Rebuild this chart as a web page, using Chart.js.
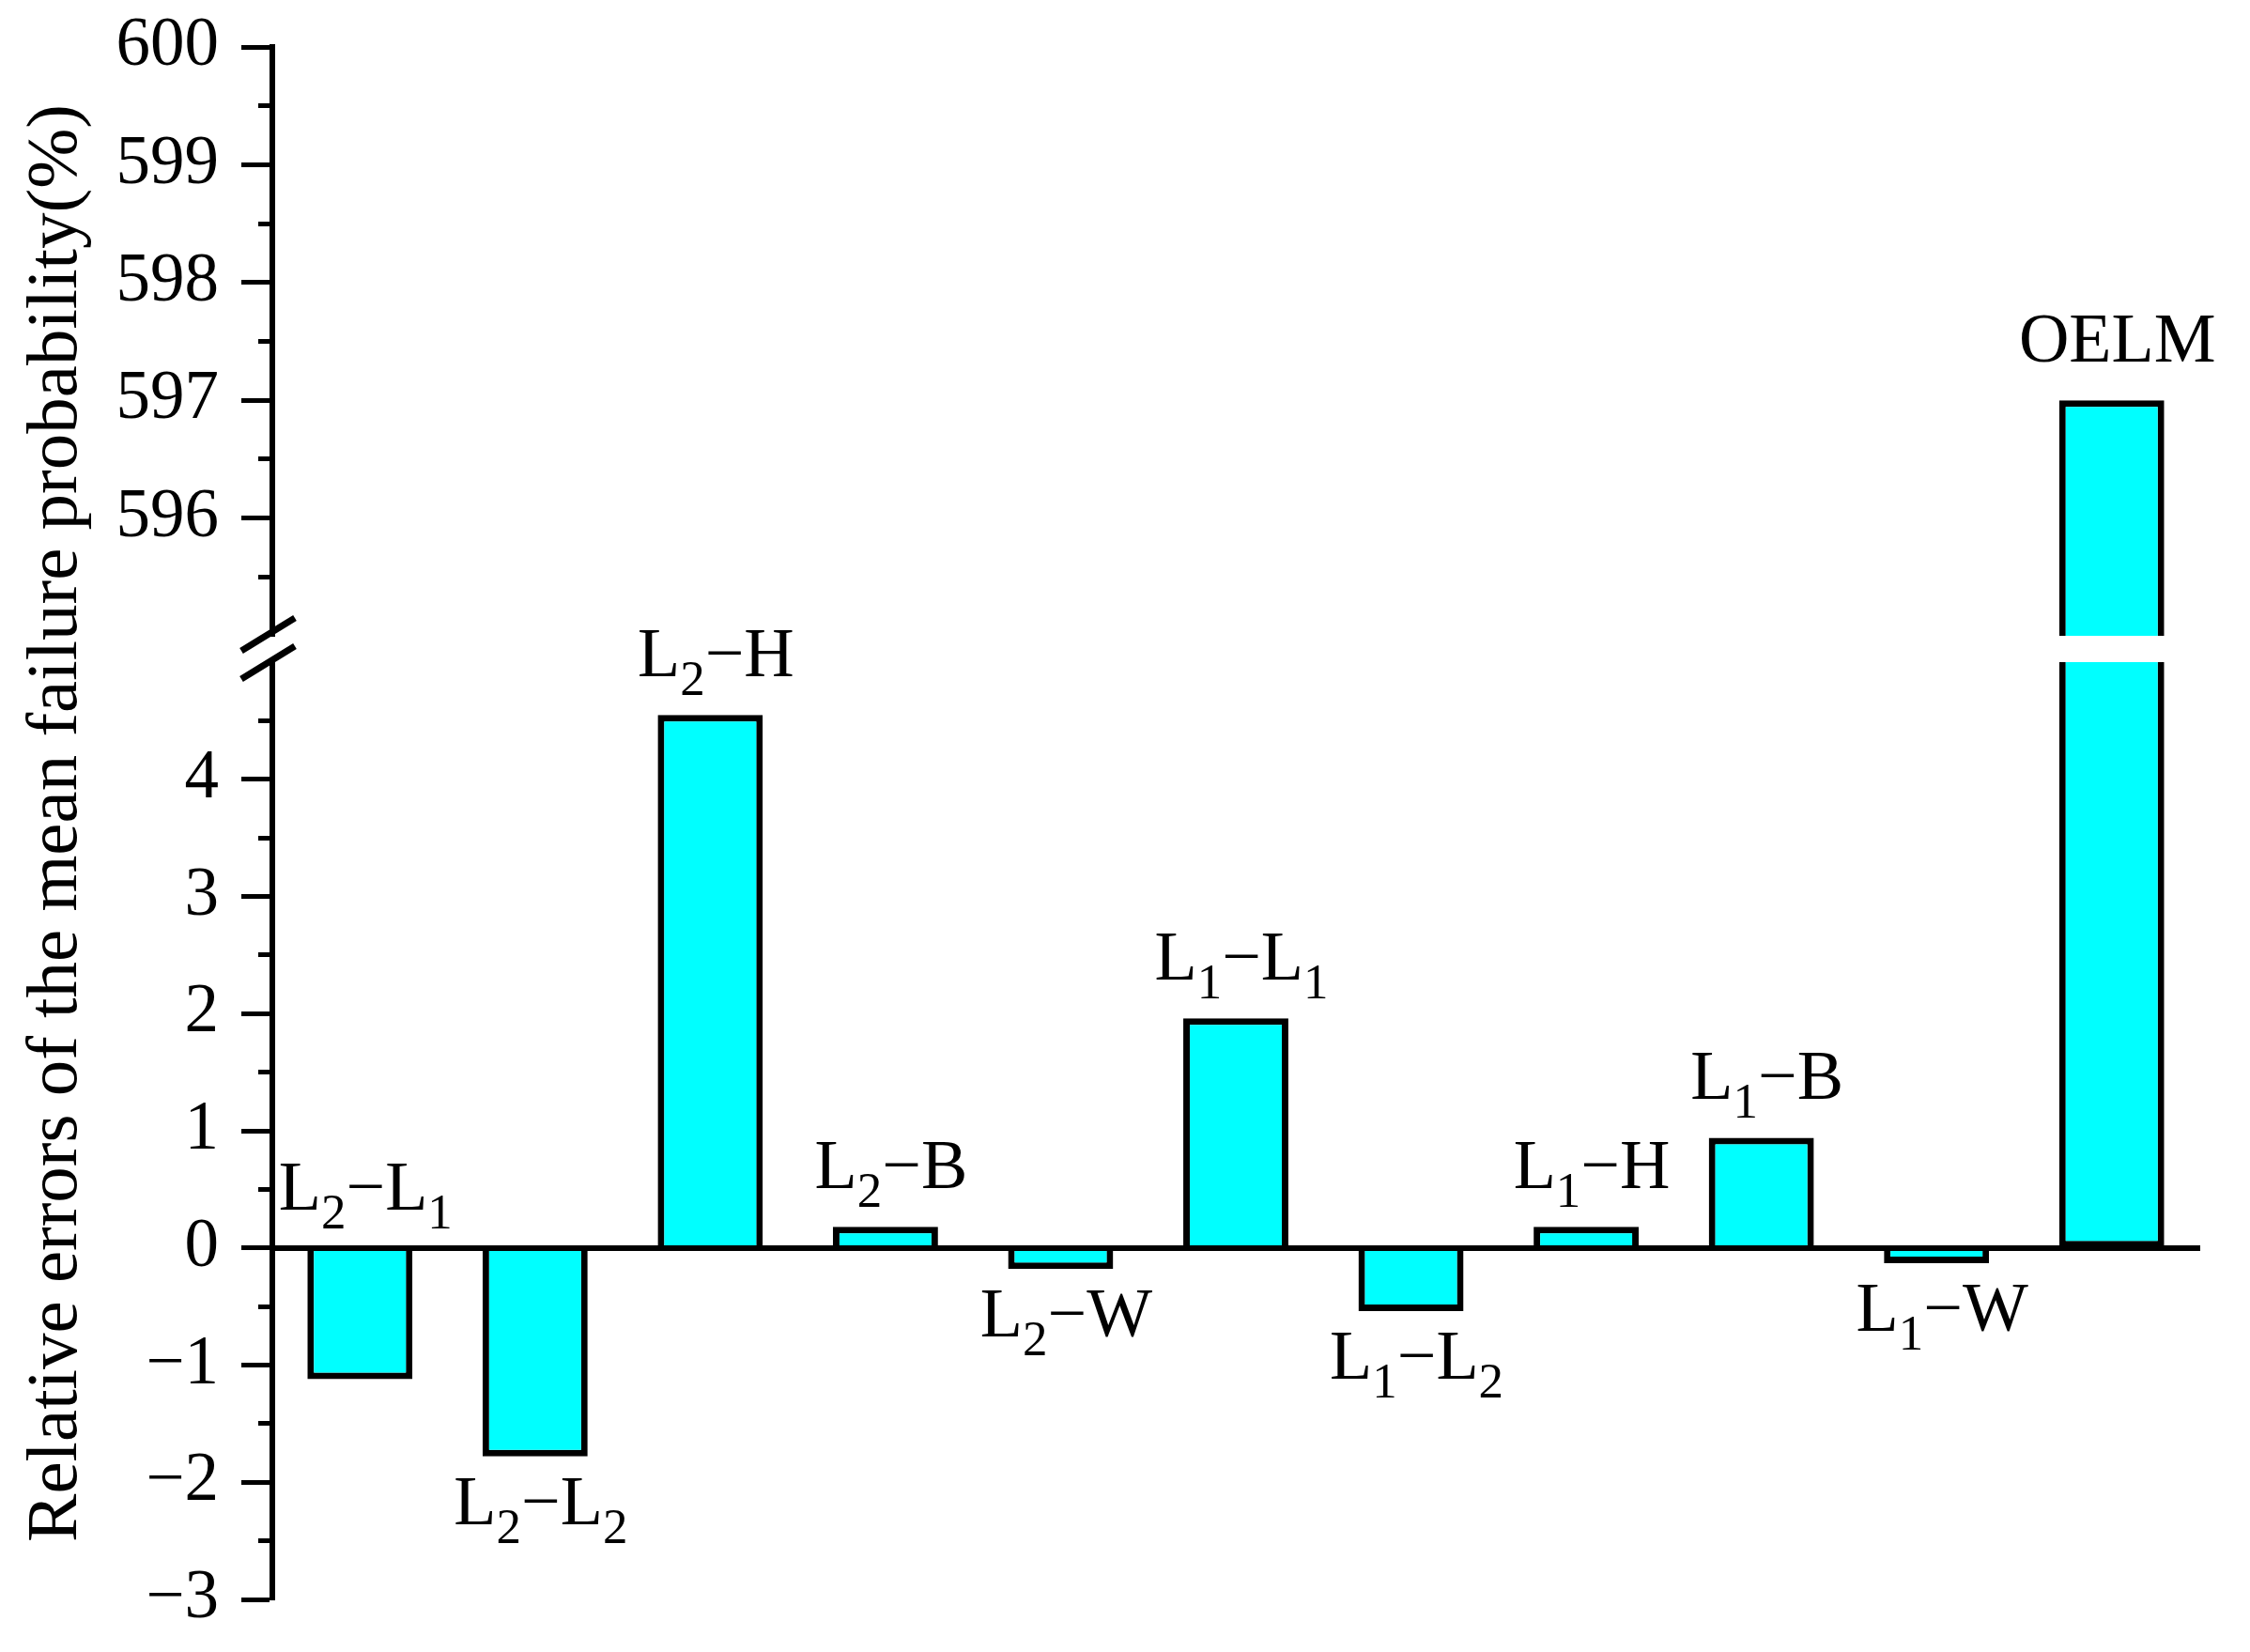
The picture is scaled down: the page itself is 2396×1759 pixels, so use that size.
<!DOCTYPE html>
<html>
<head>
<meta charset="utf-8">
<title>Relative errors of the mean failure probability</title>
<script src="https://cdn.jsdelivr.net/npm/chart.js@4.4.1/dist/chart.umd.min.js"></script>
<style>
  html, body { margin: 0; padding: 0; background: #fff; }
  canvas { display: block; }
</style>
</head>
<body>
<canvas id="chart" width="2396" height="1759"></canvas>
<script>
// categories: "_d" marks a subscript digit
const categories = [
  "L_2−L_1", "L_2−L_2", "L_2−H", "L_2−B", "L_2−W",
  "L_1−L_1", "L_1−L_2", "L_1−H", "L_1−B", "L_1−W", "OELM",
];
const values = [-1.12, -1.78, 4.55, 0.18, -0.18, 1.96, -0.54, 0.18, 0.94, -0.13, 597];
// where each name sits: above or below its bar
const labelSide = ["up", "down", "up", "up", "down", "up", "down", "up", "up", "down", "up"];

// broken y axis: lower and upper ranges
const lowRange = [-3, 5];
const highRange = [595, 600];

const FONT = "'Liberation Serif', 'Times New Roman', serif";
const CYAN = "#00ffff";

const lowValues = values.map((v) => (v > lowRange[1] ? lowRange[1] : v));
const highValues = values.map((v) => (v > lowRange[1] ? [highRange[0], v] : null));

Chart.defaults.font.family = FONT;
Chart.defaults.color = "#000";

function fmtTick(v) {
  return v < 0 ? "\u2212" + Math.abs(v) : String(v);
}

// axis width is fixed so the plot starts where the original does
function fitAxis(s) {
  s.width = 182.6;
  s.paddingTop = 0;
  s.paddingBottom = 0;
}

function isHiddenTick(range, v) {
  return (range === lowRange && v === range[1]) || (range === highRange && v === range[0]);
}

function yAxis(range, weight, stackWeight) {
  return {
    type: "linear",
    position: "left",
    stack: "y",
    weight,
    stackWeight,
    min: range[0],
    max: range[1],
    afterFit: fitAxis,
    ticks: {
      stepSize: 0.5,
      maxTicksLimit: 100,
      autoSkip: false,
      padding: 24,
      font: { size: 73 },
      color: "#000",
      callback: (v) => (Number.isInteger(v) && !isHiddenTick(range, v) ? fmtTick(v) : ""),
    },
    grid: {
      display: true,
      drawOnChartArea: false,
      drawTicks: true,
      tickLength: 33,
      tickWidth: 5,
      tickColor: (c) => (c.tick && isHiddenTick(range, c.tick.value) ? "rgba(0,0,0,0)" : "#000"),
      tickBorderDash: (c) => (c.tick && Number.isInteger(c.tick.value) ? [] : [0, 18, 15, 1000]),
    },
    border: { display: true, color: "#000", width: 6 },
  };
}

function splitLabel(name) {
  return name.split(/(_\d)/).filter(Boolean).map((p) =>
    p[0] === "_" ? { text: p.slice(1), sub: true } : { text: p, sub: false });
}

const barLabels = {
  id: "barLabels",
  afterDatasetsDraw(chart) {
    const { ctx } = chart;
    const low = chart.getDatasetMeta(0).data;
    const high = chart.getDatasetMeta(1).data;
    ctx.save();
    ctx.fillStyle = "#000";
    ctx.textBaseline = "alphabetic";
    ctx.textAlign = "left";
    categories.forEach((name, i) => {
      const bar = values[i] > lowRange[1] ? high[i] : low[i];
      const parts = splitLabel(name);
      const widths = parts.map((p) => {
        ctx.font = (p.sub ? 53 : 74) + "px " + FONT;
        return ctx.measureText(p.text).width;
      });
      const total = widths.reduce((a, b) => a + b, 0);
      const top = Math.min(bar.y, bar.base);
      const bottom = Math.max(bar.y, bar.base);
      const y = labelSide[i] === "up" ? top - 41 : bottom + 72;
      let x = bar.x - total / 2 + 6;
      parts.forEach((p, k) => {
        ctx.font = (p.sub ? 53 : 74) + "px " + FONT;
        ctx.fillText(p.text, x, p.sub ? y + 20 : y);
        x += widths[k];
      });
    });
    ctx.restore();
  },
};

const axisBreak = {
  id: "axisBreak",
  afterDraw(chart) {
    const { ctx } = chart;
    const x = chart.chartArea.left;
    const marks = [chart.scales.yHigh.bottom - 4, chart.scales.yLow.top - 2];
    ctx.save();
    ctx.strokeStyle = "#000";
    ctx.lineWidth = 7;
    marks.forEach((y) => {
      ctx.beginPath();
      ctx.moveTo(x - 33, y + 20);
      ctx.lineTo(x + 24, y - 15);
      ctx.stroke();
    });
    ctx.restore();
  },
};

new Chart(document.getElementById("chart"), {
  type: "bar",
  data: {
    labels: categories,
    datasets: [
      {
        data: lowValues,
        yAxisID: "yLow",
        grouped: false,
        backgroundColor: CYAN,
        borderColor: "#000",
        borderWidth: 7,
        borderSkipped: (c) => (values[c.dataIndex] > lowRange[1] ? "end" : "start"),
        barPercentage: 0.6,
        categoryPercentage: 1,
      },
      {
        data: highValues,
        yAxisID: "yHigh",
        grouped: false,
        backgroundColor: CYAN,
        borderColor: "#000",
        borderWidth: 7,
        borderSkipped: "start",
        barPercentage: 0.6,
        categoryPercentage: 1,
      },
    ],
  },
  options: {
    responsive: false,
    animation: false,
    layout: { padding: { top: 50, right: 54, bottom: 56, left: 0 } },
    plugins: {
      legend: { display: false },
      tooltip: { enabled: false },
      title: {
        display: true,
        position: "left",
        text: "Relative errors of the mean failure probability(%)",
        font: { size: 77, weight: "normal" },
        color: "#000",
        padding: { top: 15, bottom: 0 },
      },
    },
    scales: {
      x: {
        type: "category",
        position: { yLow: 0 },
        offset: true,
        ticks: { display: false },
        grid: { display: false, drawTicks: false },
        border: { display: true, color: "#000", width: 6, z: 1 },
      },
      yLow: yAxis(lowRange, 1, 998),
      yGap: {
        type: "linear",
        position: "left",
        stack: "y",
        weight: 2,
        stackWeight: 28,
        afterFit: fitAxis,
        ticks: { display: false },
        grid: { display: false, drawTicks: false },
        border: { display: false },
      },
      yHigh: yAxis(highRange, 3, 627),
    },
  },
  plugins: [barLabels, axisBreak],
});
</script>
</body>
</html>
